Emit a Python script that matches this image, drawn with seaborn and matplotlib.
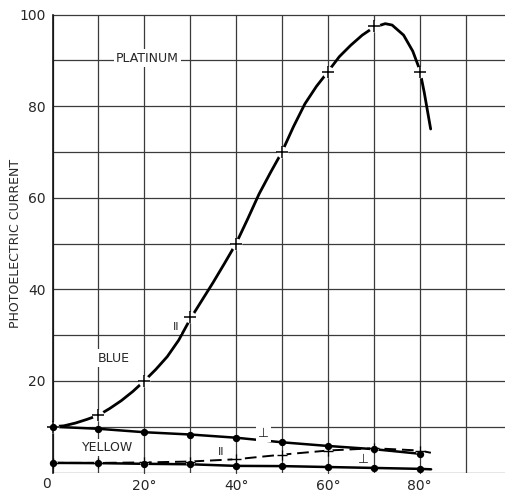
import pandas as pd
import matplotlib
matplotlib.use("Agg")
import matplotlib.pyplot as plt
import seaborn as sns

angulos = [0, 10, 20, 30, 40, 50, 60, 70, 80]

# platina, luz azul, polarizacao paralela (pontos marcados com +)
azul_par = [10, 12.5, 20, 34, 50, 70, 87.5, 97.5, 87.5]
# tracado da curva
curva_x = [0, 2.5, 5, 7.5, 10, 12.5, 15, 17.5, 20, 22.5, 25, 27.5, 30, 32.5, 35, 37.5,
           40, 42.5, 45, 47.5, 50, 52.5, 55, 57.5, 60, 62.5, 65, 67.5, 70, 72.5, 74,
           76.5, 78.5, 80, 81, 82.4]
curva_y = [10, 10.2, 10.8, 11.6, 12.5, 14, 15.7, 17.7, 20, 22.5, 25.3, 28.9, 33.5, 37.5,
           41.5, 45.7, 50, 55.3, 60.8, 65.5, 70, 75.5, 80.5, 84.3, 87.5, 90.8, 93.3, 95.5,
           97.2, 98, 97.7, 95.5, 92, 88, 83, 75]

# luz azul, perpendicular
azul_perp = [10, 9.55, 8.8, 8.3, 7.6, 6.6, 5.8, 5.1, 4.1]
# luz amarela, paralela
amarelo_par_x = [0, 10, 20, 30, 40, 50, 60, 70, 80, 82.5]
amarelo_par = [2.1, 2.1, 2.2, 2.4, 2.9, 3.9, 4.8, 5.3, 4.8, 4.3]
# luz amarela, perpendicular
amarelo_perp_x = [0, 10, 20, 30, 40, 50, 60, 70, 80, 82.5]
amarelo_perp = [2.1, 2.05, 1.9, 1.8, 1.45, 1.4, 1.2, 1.0, 0.8, 0.7]

xticks = [20, 40, 60, 80]
xlabels = ["20°", "40°", "60°", "80°"]
yticks = [20, 40, 60, 80, 100]

sns.set_theme(style="white")
plt.rcParams["font.family"] = ["DejaVu Sans"]

fig = plt.figure(figsize=(5.05, 4.92), dpi=100)
ax = fig.add_axes([0.104, 0.0396, 0.896, 0.9309])

# grade
ax.set_xlim(0, 98.6)
ax.set_ylim(0, 100)
ax.set_xticks(xticks)
ax.set_xticklabels(xlabels, fontsize=10)
ax.set_xticks([0, 10, 30, 50, 70, 90], minor=True)
ax.set_yticks(yticks)
ax.set_yticklabels([str(v) for v in yticks], fontsize=10)
ax.set_yticks([0, 10, 30, 50, 70, 90], minor=True)
ax.grid(True, which="both", color="#3a3a3a", linewidth=0.9)
for gl in ax.get_xgridlines() + ax.get_ygridlines():
    gl.set_clip_on(False)
ax.tick_params(axis="x", which="both", length=0, pad=5)
ax.tick_params(axis="y", which="major", length=3, width=0.9, pad=2, color="#222222")
ax.tick_params(axis="y", which="minor", length=0)
for s in ["top", "right", "bottom"]:
    ax.spines[s].set_visible(False)
ax.spines["left"].set_color("#111111")
ax.spines["left"].set_linewidth(1.2)

ax.text(-0.3, -0.9, "0", ha="right", va="top", fontsize=10, clip_on=False)

# curvas
sns.lineplot(x=curva_x, y=curva_y, ax=ax, color="black", linewidth=2, estimator=None)
sns.lineplot(x=angulos, y=azul_perp, ax=ax, color="black", linewidth=1.8, estimator=None)
sns.lineplot(x=amarelo_perp_x, y=amarelo_perp, ax=ax, color="black", linewidth=1.8, estimator=None)
sns.lineplot(x=amarelo_par_x, y=amarelo_par, ax=ax, color="black", linewidth=1.4,
             estimator=None, linestyle=(0, (6, 3)))

# marcadores
sns.scatterplot(x=angulos, y=azul_par, ax=ax, color="white", s=70, marker="o",
                linewidth=0, zorder=4, clip_on=False)
sns.scatterplot(x=angulos, y=azul_par, ax=ax, color="black", s=80, marker="+",
                linewidth=1.1, zorder=5, clip_on=False)
sns.scatterplot(x=amarelo_par_x[:-1], y=amarelo_par[:-1], ax=ax, color="white", s=40,
                marker="o", linewidth=0, zorder=4)
sns.scatterplot(x=amarelo_par_x[:-1], y=amarelo_par[:-1], ax=ax, color="black", s=60,
                marker="+", linewidth=1.0, zorder=5)
sns.scatterplot(x=angulos, y=azul_perp, ax=ax, color="black", s=28, marker="o",
                linewidth=0, zorder=5, clip_on=False)
sns.scatterplot(x=amarelo_perp_x[:-1], y=amarelo_perp[:-1], ax=ax, color="black", s=28,
                marker="o", linewidth=0, zorder=5, clip_on=False)

# rotulos
caixa = dict(facecolor="white", edgecolor="none", pad=1.5)
ax.text(20.7, 90.5, "PLATINUM", ha="center", va="center", fontsize=9, bbox=caixa)
ax.text(13.4, 25, "BLUE", ha="center", va="center", fontsize=9, bbox=caixa)
ax.text(12, 5.5, "YELLOW", ha="center", va="center", fontsize=9, bbox=caixa)
ax.text(26.9, 31.7, "II", ha="center", va="center", fontsize=8, bbox=caixa)
ax.text(36.7, 4.4, "II", ha="center", va="center", fontsize=8, bbox=caixa)
ax.text(45.9, 8.6, "⊥", ha="center", va="center", fontsize=9, bbox=caixa)
ax.text(67.7, 2.9, "⊥", ha="center", va="center", fontsize=9)

ax.set_xlabel("")
ax.set_ylabel("PHOTOELECTRIC CURRENT", fontsize=9)
ax.yaxis.set_label_coords(-0.067, 0.5)

fig.savefig("out.png", dpi=100, facecolor="white")
